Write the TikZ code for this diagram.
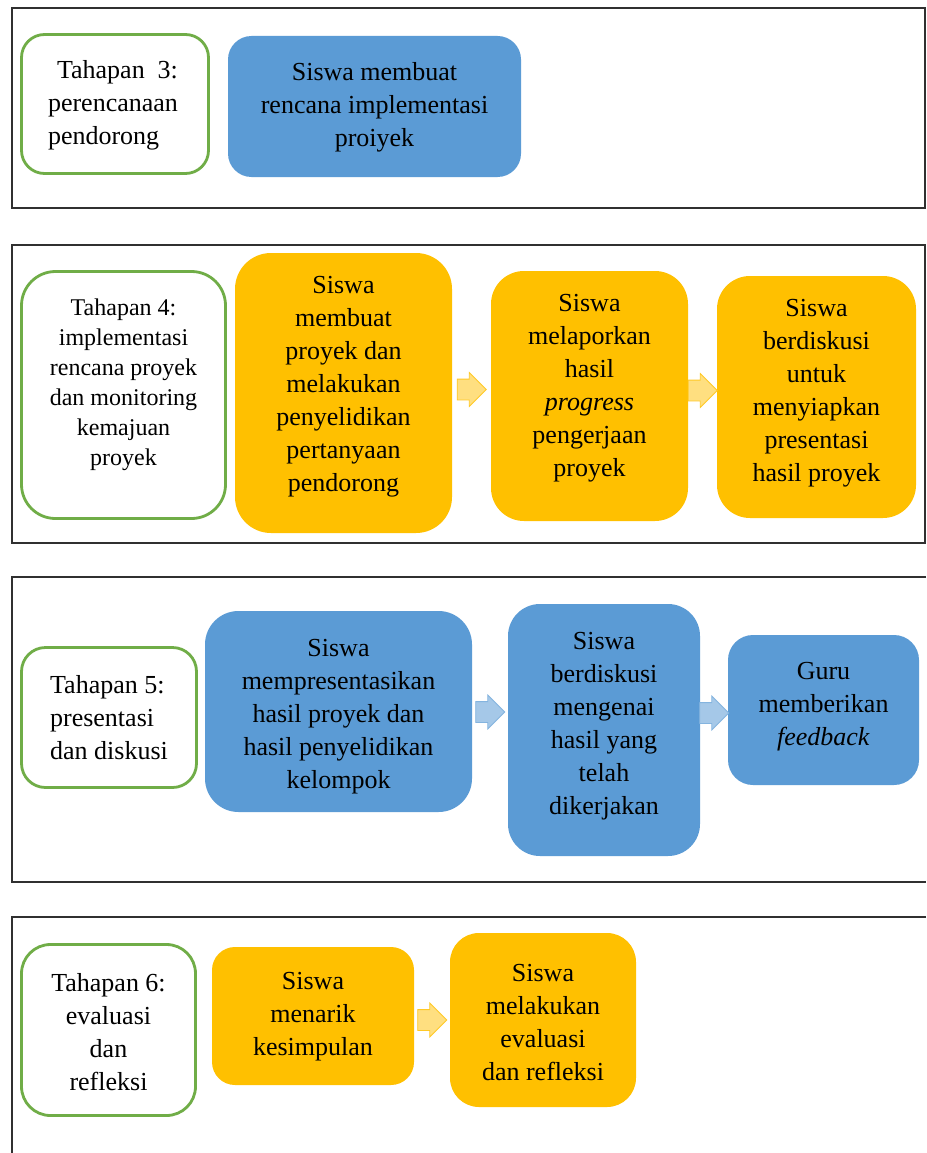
\documentclass[tikz,border=0pt]{standalone}
\usepackage{fontspec}
\setmainfont{Liberation Serif}
\usetikzlibrary{shapes.arrows,calc}
\definecolor{blueC}{HTML}{5B9BD5}
\definecolor{orangeC}{HTML}{FFC000}
\definecolor{greenC}{HTML}{70AD47}
\definecolor{frameC}{HTML}{303030}
\begin{document}
\begin{tikzpicture}[x=1pt,y=-1pt,
  outerframe/.style={draw=frameC, line width=1.3pt},
  gbox/.style={rectangle, draw=greenC, line width=2.8pt, fill=white, inner sep=0pt},
  bbox/.style={rectangle, fill=blueC, inner sep=0pt},
  obox/.style={rectangle, fill=orangeC, inner sep=0pt},
  txt/.style={font=\fontsize{26}{33}\selectfont, align=center, inner sep=0pt, text=black},
  txtl/.style={txt, align=left},
  txts/.style={txt, font=\fontsize{24}{30}\selectfont},
  oarrow/.style={single arrow, inner xsep=0pt, inner ysep=10pt, minimum height=29pt,
    single arrow head extend=6.5pt, fill=orangeC!50!white, draw=orangeC!85!white, line width=0.8pt, xshift=-5pt},
  barrow/.style={oarrow, fill=blueC!55!white, draw=blueC!75!white}
]
\useasboundingbox (0,0) rectangle (926,1153);
\fill[white] (0,0) rectangle (926,1153);

% frames
\draw[outerframe] (12,8) rectangle (925,208);
\draw[outerframe] (12,245) rectangle (925,543);
\draw[outerframe] (926,577) -- (12,577) -- (12,882) -- (926,882);
\draw[outerframe] (926,917) -- (12,917) -- (12,1153);

% Tahapan 3
\node[gbox, minimum width=187pt, minimum height=139pt, rounded corners=23pt,
  label={[txtl, yshift=-1pt, xshift=-2pt]center:{\hspace*{9pt}Tahapan\ \ 3:\\perencanaan\\pendorong}}] (g3) at (115,104) {};
\node[bbox, minimum width=293pt, minimum height=141pt, rounded corners=23.5pt,
  label={[txt, yshift=-0.5pt]center:{Siswa membuat\\rencana implementasi\\proiyek}}] (b1) at (374.5,106.5) {};

% Tahapan 4
\node[gbox, minimum width=204pt, minimum height=247pt, rounded corners=34pt,
  label={[txts, yshift=10pt]center:{Tahapan 4:\\implementasi\\rencana proyek\\dan monitoring\\kemajuan\\proyek}}] (g4) at (123.5,395) {};
\node[obox, minimum width=217pt, minimum height=280pt, rounded corners=36pt,
  label={[txt, yshift=6pt]center:{Siswa\\membuat\\proyek dan\\melakukan\\penyelidikan\\pertanyaan\\pendorong}}] (o1) at (343.5,393) {};
\node[obox, minimum width=197pt, minimum height=250pt, rounded corners=33pt,
  label={[txt, yshift=7.5pt]center:{Siswa\\melaporkan\\hasil\\\textit{progress}\\pengerjaan\\proyek}}] (o2) at (589.5,396) {};
\node[obox, minimum width=199pt, minimum height=242pt, rounded corners=33pt,
  label={[txt, yshift=4pt]center:{Siswa\\berdiskusi\\untuk\\menyiapkan\\presentasi\\hasil proyek}}] (o3) at (816.5,397) {};
\node[oarrow, yshift=5pt] (a1) at ($(o1.east)!0.5!(o2.west)$) {};
\node[oarrow, yshift=6pt] (a2) at ($(o2.east)!0.5!(o3.west)$) {};

% Tahapan 5
\node[gbox, minimum width=175pt, minimum height=140pt, rounded corners=24pt,
  label={[txtl, yshift=-0.5pt]center:{Tahapan 5:\\presentasi\\dan diskusi}}] (g5) at (109,717.5) {};
\node[bbox, minimum width=267pt, minimum height=201pt, rounded corners=33.5pt,
  label={[txt, yshift=-5.5pt]center:{Siswa\\mempresentasikan\\hasil proyek dan\\hasil penyelidikan\\kelompok}}] (b2) at (338.5,711.5) {};
\node[bbox, minimum width=192pt, minimum height=252pt, rounded corners=32pt,
  label={[txt, yshift=3.5pt]center:{Siswa\\berdiskusi\\mengenai\\hasil yang\\telah\\dikerjakan}}] (b3) at (604,730) {};
\node[bbox, minimum width=191pt, minimum height=150pt, rounded corners=25pt,
  label={[txt, yshift=3pt]center:{Guru\\memberikan\\\textit{feedback}}}] (b4) at (823.5,710) {};
\node[barrow] (a3) at ($(b2.east |- 0,712)!0.5!(b3.west |- 0,712)$) {};
\node[barrow] (a4) at ($(b3.east |- 0,713)!0.5!(b4.west |- 0,713)$) {};

% Tahapan 6
\node[gbox, minimum width=174pt, minimum height=171pt, rounded corners=29pt,
  label={[txt, yshift=-2pt]center:{Tahapan 6:\\evaluasi\\dan\\refleksi}}] (g6) at (108.5,1030) {};
\node[obox, minimum width=202pt, minimum height=138pt, rounded corners=23pt,
  label={[txt, yshift=-1pt]center:{Siswa\\menarik\\kesimpulan}}] (o4) at (313,1016) {};
\node[obox, minimum width=186pt, minimum height=174pt, rounded corners=29pt,
  label={[txt, yshift=-3pt]center:{Siswa\\melakukan\\evaluasi\\dan refleksi}}] (o5) at (543,1020) {};
\node[oarrow] (a5) at ($(o4.east |- 0,1020)!0.5!(o5.west |- 0,1020)$) {};
\end{tikzpicture}
\end{document}
